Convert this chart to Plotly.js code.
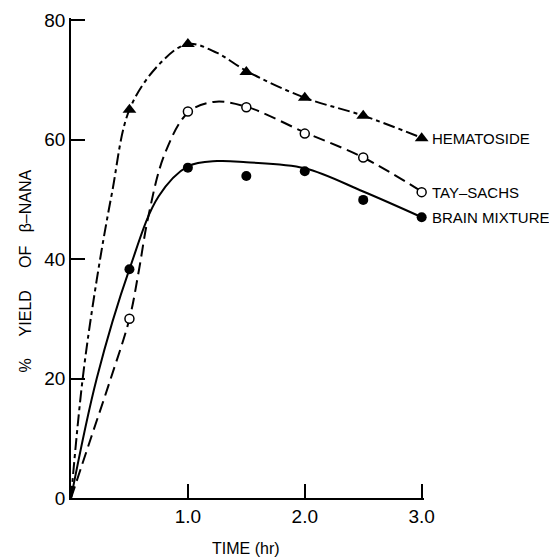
<!DOCTYPE html>
<html>
<head>
<meta charset="utf-8">
<script src="https://cdn.plot.ly/plotly-3.0.1.min.js"></script>
<style>html,body{margin:0;padding:0;background:#fff;}#chart{width:549px;height:557px;}</style>
</head>
<body>
<div id="chart"></div>
<script>
// Measured points
const time = [0.5, 1.0, 1.5, 2.0, 2.5, 3.0];
const hematoside = [65, 76, 71.3, 67, 64, 60.2];
const taySachs = [30, 64.7, 65.4, 61, 57, 51.2];
const brainMixture = [38.3, 55.3, 53.9, 54.7, 49.9, 47];

// Hand-drawn curves
const hemaCurveT = [0, 0.1, 0.22, 0.35, 0.5, 0.75, 1.0, 1.25, 1.5, 2.0, 2.5, 3.0];
const hemaCurveY = [0, 20, 36.5, 51, 65, 72.5, 76, 74.5, 71.5, 67, 64, 60.3];
const tayCurveT = [0, 0.17, 0.34, 0.5, 0.58, 0.66, 0.8, 1.0, 1.22, 1.5, 2.0, 2.5, 3.0];
const tayCurveY = [0, 10, 20, 30, 38, 47, 57.5, 64.5, 66.3, 65.5, 61.2, 57, 51.3];
const brainCurveT = [0, 0.22, 0.5, 0.75, 1.0, 1.25, 1.5, 2.0, 2.5, 3.0];
const brainCurveY = [0, 20, 38.3, 50.5, 55.5, 56.4, 56.2, 55.2, 51.3, 47];

const seriesLabels = ['HEMATOSIDE', 'TAY\u2013SACHS', 'BRAIN MIXTURE'];
const xTickVals = [1, 2, 3];
const xTickText = ['1.0', '2.0', '3.0'];
const yTickVals = [0, 20, 40, 60, 80];
const yTickText = ['0', '20', '40', '60', '80'];
const xTitle = 'TIME (hr)';
const yTitle = '%\u00A0\u00A0\u00A0\u00A0 YIELD\u00A0\u00A0\u00A0\u00A0 OF\u00A0\u00A0 \u03B2\u2013NANA';

const FONT = 'Liberation Sans, Arial, sans-serif';

const traces = [
  {x: hemaCurveT, y: hemaCurveY, mode: 'lines', line: {color: '#000', width: 2, shape: 'spline', smoothing: 1, dash: '12px,4px,4px,4px'}, hoverinfo: 'skip'},
  {x: tayCurveT, y: tayCurveY, mode: 'lines', line: {color: '#000', width: 2, shape: 'spline', smoothing: 1, dash: '12px,6px'}, hoverinfo: 'skip'},
  {x: brainCurveT, y: brainCurveY, mode: 'lines', line: {color: '#000', width: 2, shape: 'spline', smoothing: 1}, hoverinfo: 'skip'},
  {x: time, y: hematoside, mode: 'markers', marker: {symbol: 'triangle-up', size: 12, color: '#000'}, cliponaxis: false},
  {x: time, y: taySachs, mode: 'markers', marker: {symbol: 'circle', size: 9, color: '#fff', line: {color: '#000', width: 1.5}}, cliponaxis: false},
  {x: time, y: brainMixture, mode: 'markers', marker: {symbol: 'circle', size: 10, color: '#000'}, cliponaxis: false}
];

const lastVals = [hematoside[hematoside.length-1], taySachs[taySachs.length-1], brainMixture[brainMixture.length-1]];
const annotations = seriesLabels.map((t, i) => ({
  x: time[time.length-1], y: lastVals[i], xref: 'x', yref: 'y', text: t, showarrow: false,
  xanchor: 'left', yanchor: 'middle', xshift: 8, font: {family: FONT, size: 15, color: '#000'}
}));
annotations.push({x: 0.495, y: -0.105, xref: 'paper', yref: 'paper', text: xTitle, showarrow: false,
  xanchor: 'center', yanchor: 'middle', font: {family: FONT, size: 16, color: '#000'}});
annotations.push({x: -0.13, y: 0.472, xref: 'paper', yref: 'paper', text: yTitle, showarrow: false, textangle: -90,
  xanchor: 'center', yanchor: 'middle', font: {family: FONT, size: 16, color: '#000'}});

const axisCommon = {
  showgrid: false, zeroline: false, showline: true, linecolor: '#000', linewidth: 1.5,
  ticks: 'inside', ticklen: 14, tickwidth: 2, tickcolor: '#000', tickmode: 'array',
  showticklabels: true, tickfont: {family: FONT, size: 19, color: '#000'}
};

const layout = {
  width: 549, height: 557, autosize: false,
  margin: {l: 71, r: 125, t: 18, b: 59, pad: 0},
  showlegend: false,
  font: {family: FONT, color: '#000'},
  xaxis: Object.assign({}, axisCommon, {range: [0, 3.02], tickvals: xTickVals, ticktext: xTickText}),
  yaxis: Object.assign({}, axisCommon, {range: [0, 80.35], tickvals: yTickVals, ticktext: yTickText}),
  annotations: annotations
};

Plotly.newPlot('chart', traces, layout, {displayModeBar: false});
</script>
</body>
</html>
